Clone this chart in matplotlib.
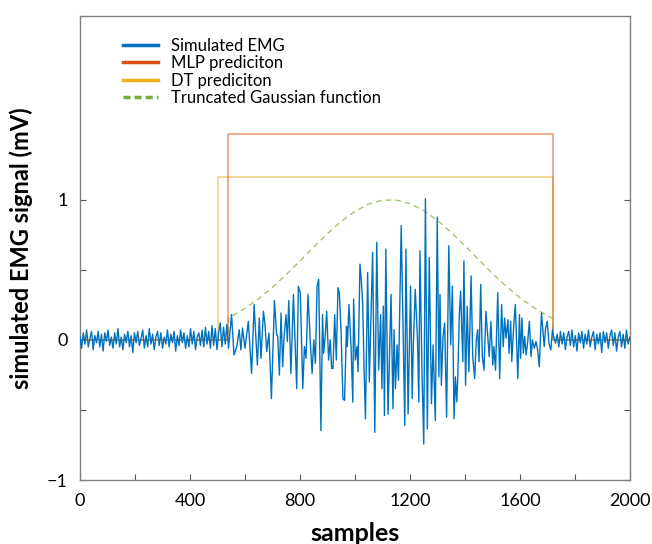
import numpy as np
import matplotlib
matplotlib.use("Agg")
import matplotlib.pyplot as plt
from matplotlib.lines import Line2D

plt.rcParams['font.family'] = ['Lato', 'DejaVu Sans']

# ---- data ----
pre_values = [0.02,-0.06,0.05,-0.03,0.07,-0.05,0.01,0.06,-0.07,0.03,
              -0.02,0.06,-0.05,0.04,-0.08,0.05,-0.01,0.07,-0.04,0.02,
              -0.06,0.05,-0.03,0.08,-0.05,0.02,-0.07,0.04,-0.02,0.06,
              -0.05,0.03,-0.09,0.05,-0.02,0.06,-0.04,0.01,0.07,-0.06,
              0.03,-0.05,0.08,-0.03,0.04,-0.07,0.02,0.06,-0.04,0.05,
              -0.06,0.02,-0.03,0.07,-0.05,0.04,-0.02,0.06,-0.08,0.03,
              -0.04,0.07,-0.02,0.05,-0.06,0.03,-0.05,0.08,-0.03,0.06,
              -0.07,0.02,0.05,-0.04,0.07,-0.05,0.09,-0.03,0.06,-0.06,
              0.1,-0.04,0.08,-0.07,0.05,0.12,-0.05,0.09,-0.03,0.11,-0.06]
pre_samples = list(range(0, 546, 6))

burst_samples = [551,560,570,579,585,591,600,612,624,633,645,652,658,667,673,679,687,696,707,715,
                 719,725,731,737,742,749,754,759,767,776,781,788,794,801,810,816,822,829,838,844,
                 850,856,862,868,876,882,886,892,897,904,910,915,
                 920,926,932,938,943,949,956,962,969,972,978,986,992,995,1001,1007,1011,1018,1023,1028,
                 1033,1038,1046,1052,1064,1072,1079,1086,1093,1098,1103,1107,1112,1120,
                 1131,1138,1142,1147,1153,1158,1168,1181,1185,1193,1202,1208,1212,1219,1227,1232,1236,1244,
                 1250,1256,1263,1270,1278,1284,1292,1299,1305,1309,1314,1320,1326,
                 1333,1341,1348,1354,1360,1365,1370,1374,1379,1384,1392,1396,1402,1408,1414,1422,1428,1435,
                 1441,1446,1451,1457,1463,1469,1476,1481,1488,1494,1501,1505,1511,1519,1526,
                 1533,1539,1544,1549,1556,1560,1566,1570,1578,1583,1592,1598,1602,1607,1612,1617,1622,1628,
                 1634,1640,1645,1652,1658,1664,1670,1678,1682,1688,1693,1699,1705,1712,1718,1722,1729]
burst_values = [0.18,-0.108,-0.048,0.072,-0.072,0.084,-0.06,0.132,-0.24,0.252,-0.18,0.156,-0.132,0.204,0.1,-0.084,0.048,-0.42,0.28,0.036,
                0.024,-0.252,0.192,-0.192,0.024,0.18,-0.012,0.28,-0.24,0.324,0.048,-0.348,0.383,0.336,-0.348,-0.048,-0.132,0.324,-0.036,-0.24,
                0.0,-0.168,0.383,0.432,-0.648,0.18,-0.096,0.036,0.204,-0.144,0.0,-0.204,
                -0.204,0.18,-0.144,0.372,0.336,0.072,-0.42,-0.432,0.096,-0.048,0.252,-0.072,-0.444,0.29,-0.144,-0.048,-0.228,0.54,0.42,0.252,
                -0.216,-0.564,0.48,-0.3,0.623,-0.66,0.695,-0.216,0.18,-0.348,0.24,-0.54,0.647,-0.53,
                0.324,-0.492,0.072,-0.348,-0.036,-0.288,0.815,-0.612,0.647,-0.528,0.383,-0.42,-0.036,0.36,0.012,-0.444,0.635,-0.264,
                -0.744,1.007,-0.636,0.587,-0.456,-0.036,-0.576,0.875,-0.264,0.324,-0.324,0.024,0.12,
                -0.552,0.671,-0.036,0.383,-0.564,-0.264,-0.444,-0.25,0.168,0.348,-0.156,0.563,-0.324,0.24,-0.228,0.456,-0.12,-0.276,
                0.0,0.072,-0.156,0.396,-0.12,-0.216,0.204,0.072,-0.12,0.132,-0.18,-0.048,-0.216,0.336,-0.276,
                0.252,-0.048,0.156,0.012,0.144,-0.096,0.132,-0.156,0.132,0.252,-0.276,0.18,-0.132,0.156,-0.096,0.024,-0.108,-0.012,
                0.132,-0.12,0.0,-0.06,-0.012,-0.072,-0.192,0.192,0.096,-0.048,0.084,0.132,-0.024,-0.072,0.072,0.024,-0.024]

post_values = [0.04,-0.05,0.06,-0.03,0.05,-0.07,0.02,0.06,-0.04,0.07,
               -0.05,0.03,-0.08,0.05,-0.02,0.06,-0.06,0.04,-0.03,0.07,
               -0.05,0.02,0.06,-0.07,0.04,-0.03,0.05,-0.09,0.06,-0.02,
               0.05,-0.06,0.03,0.07,-0.04,0.05,-0.08,0.02,0.06,-0.05,
               0.04,-0.06,0.07,-0.03,0.02]
post_samples = list(range(1735, 2001, 6))

emg_x = pre_samples + burst_samples + post_samples
emg_y = pre_values + burst_values + post_values

mlp_x = [0, 538, 538, 1720, 1720, 2000]
mlp_y = [0, 0, 1.47, 1.47, 0, 0]
dt_x = [0, 502, 502, 1720, 1720, 2000]
dt_y = [0, 0, 1.165, 1.165, 0, 0]

gauss_x = [0, 540, 540, 550, 600, 650, 700, 750, 800, 850, 900, 950, 1000, 1050, 1100, 1150,
           1200, 1250, 1300, 1350, 1400, 1450, 1500, 1550, 1600, 1650, 1700, 1720, 1720, 2000]
gauss_y = [0, 0, 0.157, 0.167, 0.225, 0.294, 0.375, 0.466, 0.563, 0.662, 0.758, 0.845, 0.917, 0.969, 0.996, 0.997,
           0.972, 0.922, 0.852, 0.766, 0.670, 0.571, 0.473, 0.382, 0.300, 0.230, 0.171, 0.151, 0, 0]

labels = ['Simulated EMG', 'MLP prediciton', 'DT prediciton', 'Truncated Gaussian function']
colors = ['#0072BD', '#D95319', '#EDB120', '#77AC30']

fig = plt.figure(figsize=(6.52, 5.44), dpi=100)
ax = fig.add_axes([0.1227, 0.1176, 0.8436, 0.853])

ax.plot(gauss_x, gauss_y, color=colors[3], lw=1.0, ls=(0, (4, 3)), alpha=0.7, zorder=1)
ax.plot(dt_x, dt_y, color=colors[2], lw=1.1, alpha=0.6, zorder=2)
ax.plot(mlp_x, mlp_y, color=colors[1], lw=1.1, alpha=0.6, zorder=2)
ax.plot(emg_x, emg_y, color=colors[0], lw=1.0, zorder=3)

ax.set_xlim(0, 2000)
ax.set_ylim(-1, 2.31)
ax.set_xticks([0, 200, 400, 600, 800, 1000, 1200, 1400, 1600, 1800, 2000])
ax.set_xticklabels(['0', '', '400', '', '800', '', '1200', '', '1600', '', '2000'], fontsize=13)
ax.set_yticks([-1, -0.5, 0, 0.5, 1])
ax.set_yticklabels(['\u22121', '', '0', '', '1'], fontsize=13)
ax.tick_params(direction='in', length=4, color='#555555', right=True, top=False, pad=9)
for s in ax.spines.values():
    s.set_color('#808080')
    s.set_linewidth(1.0)

ax.set_xlabel('samples', fontsize=18, fontweight='bold', labelpad=10)
ax.set_ylabel('simulated EMG signal (mV)', fontsize=17, fontweight='bold', labelpad=10)

handles = [Line2D([], [], color=colors[0], lw=2.5),
           Line2D([], [], color=colors[1], lw=2.5),
           Line2D([], [], color=colors[2], lw=2.5),
           Line2D([], [], color=colors[3], lw=2.5, ls=(0, (2, 1.2)))]
ax.legend(handles, labels, loc='upper left', bbox_to_anchor=(0.05, 0.985), frameon=False,
          fontsize=12, handlelength=2.1, handletextpad=0.8, labelspacing=0.08)

fig.savefig('out.png', dpi=100)
